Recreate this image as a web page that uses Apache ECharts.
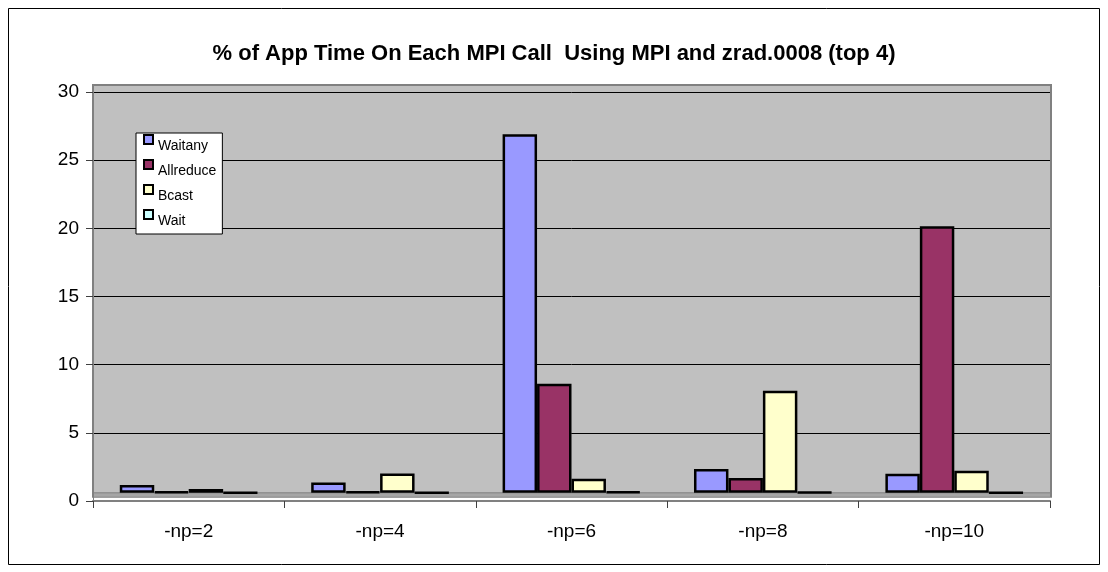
<!DOCTYPE html>
<html>
<head>
<meta charset="utf-8">
<script src="https://cdn.jsdelivr.net/npm/echarts@6/dist/echarts.min.js"></script>
<style>
  html, body { margin: 0; padding: 0; background: #ffffff; }
  #chart { width: 1108px; height: 572px; }
</style>
</head>
<body>
<div id="chart"></div>
<script>
// Process counts on the category axis
const categories = ['-np=2', '-np=4', '-np=6', '-np=8', '-np=10'];

// % of application time spent in each MPI call (height above the floor)
const waitany   = [0.58, 0.76, 26.30, 1.74, 1.40];
const allreduce = [0.08, 0.08, 8.00, 1.08, 19.55];
const bcast     = [0.28, 1.42, 1.03, 7.48, 1.62];
const wait      = [0.02, 0.02, 0.08, 0.03, 0.02];

// Value axis ticks
const yMin = 0;
const yMax = 30;
const yStep = 5;

const seriesNames = ['Waitany', 'Allreduce', 'Bcast', 'Wait'];
const seriesData = [waitany, allreduce, bcast, wait];
const seriesColors = ['#9999FF', '#993366', '#FFFFCC', '#CCFFFF'];

const FONT = '"Liberation Sans", Arial, sans-serif';
const W = 1108, H = 572;
const GRID = { left: 93, right: 58, top: 92, bottom: 71 };
// the 3D floor lifts the bars a little above the front axis
const floorLift = 0.6;

const chart = echarts.init(document.getElementById('chart'), null, { renderer: 'canvas' });

const option = {
  animation: false,
  backgroundColor: '#ffffff',
  title: {
    text: '% of App Time On Each MPI Call  Using MPI and zrad.0008 (top 4)',
    left: 'center',
    top: 38,
    textStyle: { fontFamily: FONT, fontSize: 22, fontWeight: 'bold', color: '#000' }
  },
  legend: {
    orient: 'vertical',
    left: 136,
    top: 133,
    padding: [1, 6, 0, 7],
    itemGap: 0,
    itemWidth: 9,
    itemHeight: 23,
    icon: 'path://M0,0H9V9H0Z M0,23',
    backgroundColor: '#ffffff',
    borderColor: '#000000',
    borderWidth: 1,
    borderRadius: 0,
    selectedMode: false,
    itemStyle: { borderColor: '#000000', borderWidth: 2 },
    textStyle: { fontFamily: FONT, fontSize: 14, color: '#000' },
    data: seriesNames
  },
  grid: {
    left: GRID.left,
    right: GRID.right,
    top: GRID.top,
    bottom: GRID.bottom,
    containLabel: false
  },
  xAxis: {
    type: 'category',
    data: categories,
    boundaryGap: true,
    axisLine: { show: true, lineStyle: { color: '#808080', width: 2 } },
    axisTick: { show: true, length: 7, interval: 0, lineStyle: { color: '#404040', width: 1 } },
    axisLabel: { margin: 21, fontFamily: FONT, fontSize: 19, color: '#000' },
    splitLine: { show: false }
  },
  yAxis: [
    {
      type: 'value',
      min: yMin,
      max: yMax,
      interval: yStep,
      axisLine: { show: true, lineStyle: { color: '#808080', width: 1 } },
      axisTick: { show: true, length: 7, lineStyle: { color: '#404040' } },
      axisLabel: { margin: 14, fontFamily: FONT, fontSize: 19, color: '#000' },
      splitLine: { show: true, showMinLine: false, lineStyle: { color: '#000000', width: 1 } }
    },
    {
      // bar scale: same spacing, zero sitting on the floor
      type: 'value',
      min: yMin - floorLift,
      max: yMax - floorLift,
      show: false,
      splitLine: { show: false }
    }
  ],
  series: seriesNames.map((name, i) => ({
    name: name,
    type: 'bar',
    yAxisIndex: 1,
    data: seriesData[i],
    barGap: '0%',
    barCategoryGap: '28%',
    itemStyle: { color: seriesColors[i], borderColor: '#000000', borderWidth: 2.5 },
    emphasis: { disabled: true },
    z: 3
  }))
};

chart.setOption(option);

// Back wall, floor strip and outer frame, placed from the axis scales
const xLeft = GRID.left;
const xRight = W - GRID.right;
const wallTop = chart.convertToPixel({ yAxisIndex: 0 }, yMax) - 7;
const floorY = chart.convertToPixel({ yAxisIndex: 1 }, 0);

chart.setOption({
  graphic: [
    {
      type: 'rect', z: -5, silent: true,
      shape: { x: xLeft, y: wallTop, width: xRight - xLeft + 1, height: floorY + 4 - wallTop },
      style: { fill: '#C0C0C0', stroke: '#808080', lineWidth: 2 }
    },
    {
      type: 'rect', z: 1, silent: true,
      shape: { x: xLeft + 1, y: floorY, width: xRight - xLeft - 1, height: 4 },
      style: { fill: '#A6A6A6', stroke: null }
    },
    {
      type: 'line', z: 1, silent: true,
      shape: { x1: xLeft + 1, y1: floorY, x2: xRight, y2: floorY },
      style: { stroke: '#808080', lineWidth: 1 }
    },
    {
      type: 'rect', z: 10, silent: true,
      shape: { x: 8.5, y: 8.5, width: W - 17, height: H - 16 },
      style: { fill: null, stroke: '#000000', lineWidth: 1 }
    }
  ]
});
</script>
</body>
</html>
